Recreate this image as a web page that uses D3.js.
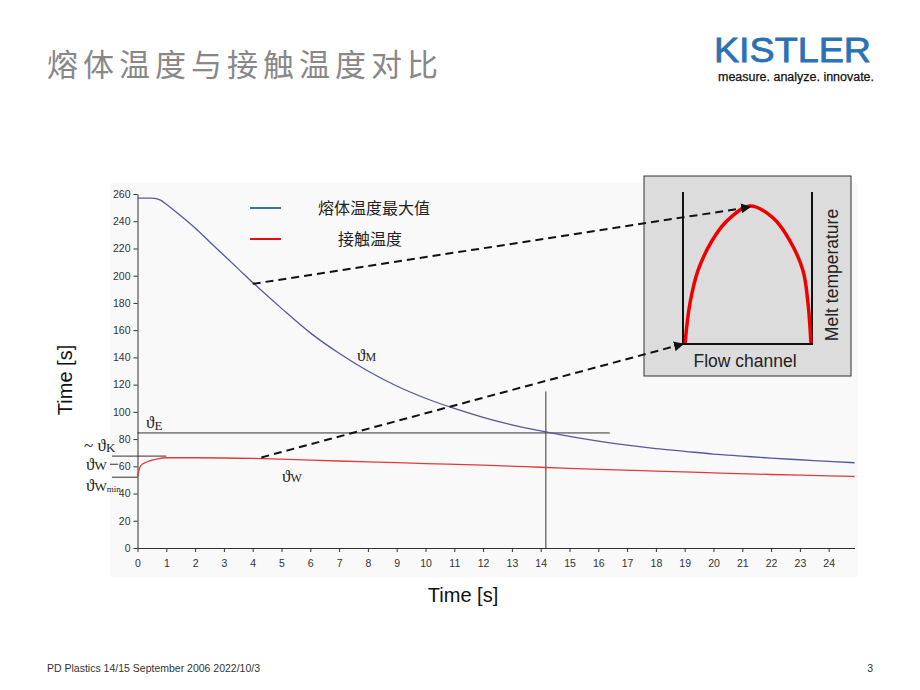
<!DOCTYPE html>
<html>
<head>
<meta charset="utf-8">
<script src="https://cdn.jsdelivr.net/npm/d3@7"></script>
<style>
body { margin: 0; background: #fff; }
text { font-family: Arial, "Liberation Sans", sans-serif; }
.cjk { font-family: "Noto Sans CJK SC", sans-serif; }
.greek { font-family: "Liberation Serif", "DejaVu Serif", serif; fill: #222; }
</style>
</head>
<body>
<div id="chart"></div>
<script>
// melt temperature maximum (blue) and contact temperature (red)
var timeM = [0, 0.5, 0.8, 1, 1.5, 2, 2.5, 3, 3.5, 4, 5, 6, 7, 8, 9, 10, 11, 12, 13, 14, 15, 16, 17, 18, 19, 20, 21, 22, 23, 24, 24.9];
var tempM = [257, 257, 255.5, 252.5, 244, 235, 225, 215, 205, 195, 176, 158, 143, 130, 119, 110, 102.5, 96, 90.5, 86, 82, 78.5, 75.5, 73, 71, 69, 67.5, 66, 64.8, 63.6, 62.6];
var timeW = [0, 0.05, 0.1, 0.2, 0.3, 0.5, 0.7, 1, 2, 4, 6, 8, 10, 12, 14, 16, 18, 20, 22, 24, 24.9];
var tempW = [52, 57, 60, 62, 63, 64.5, 65.5, 66.3, 66.3, 65.8, 64.5, 63.3, 62, 60.8, 59.3, 57.8, 56.5, 55.2, 54, 53, 52.5];
var xTicks = d3.range(0, 25, 1);
var yTicks = d3.range(0, 261, 20);
var legendNames = ["熔体温度最大值", "接触温度"];

// reference levels
var levelE = 84.5, levelK = 67.5, levelWmin = 52, levelW = 61.5;
var crossTime = 14.18, crossTop = 115, levelEEnd = 16.4;

// inset melt profile across the flow channel (normalised)
var profX = [0.016, 0.054, 0.116, 0.225, 0.341, 0.519, 0.698, 0.829, 0.93, 0.969, 0.992];
var profY = [0.007, 0.295, 0.532, 0.748, 0.892, 1.0, 0.914, 0.748, 0.532, 0.295, 0.007];

var width = 920, height = 690;
var svg = d3.select("#chart").append("svg")
	.attr("width", width)
	.attr("height", height);

// title + logo
svg.append("text")
	.attr("class", "cjk")
	.attr("x", 47).attr("y", 76)
	.attr("font-size", 31)
	.attr("letter-spacing", 5)
	.attr("fill", "#888")
	.text("熔体温度与接触温度对比");

svg.append("text")
	.attr("x", 714).attr("y", 62)
	.attr("font-size", 35)
	.attr("textLength", 157)
	.attr("lengthAdjust", "spacingAndGlyphs")
	.attr("fill", "#2a72b4")
	.attr("stroke", "#2a72b4").attr("stroke-width", 0.8)
	.text("KISTLER");

svg.append("text")
	.attr("x", 718).attr("y", 81)
	.attr("font-size", 12.5)
	.attr("textLength", 156)
	.attr("lengthAdjust", "spacingAndGlyphs")
	.attr("fill", "#111")
	.attr("stroke", "#111").attr("stroke-width", 0.25)
	.text("measure. analyze. innovate.");

// plot background
svg.append("rect")
	.attr("x", 110).attr("y", 183)
	.attr("width", 748).attr("height", 394)
	.attr("fill", "#f9f9f9");

var x = d3.scaleLinear().domain([0, 24.9]).range([137.5, 854.6]);
var y = d3.scaleLinear().domain([0, 260]).range([548, 194]);

var xAxis = d3.axisBottom(x).tickValues(xTicks).tickSize(4).tickSizeOuter(0).tickPadding(8);
var yAxis = d3.axisLeft(y).tickValues(yTicks).tickSize(4).tickSizeOuter(0).tickPadding(3);

var gx = svg.append("g").attr("transform", "translate(0," + y(0) + ")").call(xAxis);
var gy = svg.append("g").attr("transform", "translate(" + x(0) + ",0)").call(yAxis);
[gx, gy].forEach(function(g) {
	g.select(".domain").attr("stroke", "#333");
	g.selectAll(".tick line").attr("stroke", "#333");
	g.selectAll(".tick text").attr("font-size", 10.5).attr("fill", "#333")
		.style("font-family", "Arial, 'Liberation Sans', sans-serif");
});

// axis titles
svg.append("text")
	.attr("x", 463).attr("y", 602)
	.attr("text-anchor", "middle")
	.attr("font-size", 20).attr("fill", "#111")
	.text("Time [s]");
svg.append("text")
	.attr("transform", "translate(72,380) rotate(-90)")
	.attr("text-anchor", "middle")
	.attr("font-size", 20).attr("fill", "#111")
	.text("Time [s]");

// reference lines
var ref = svg.append("g").attr("stroke", "#333").attr("stroke-width", 1);
ref.append("line")
	.attr("x1", x(0)).attr("x2", x(levelEEnd))
	.attr("y1", y(levelE)).attr("y2", y(levelE));
ref.append("line")
	.attr("x1", x(crossTime)).attr("x2", x(crossTime))
	.attr("y1", y(crossTop)).attr("y2", y(0));
ref.append("line")
	.attr("x1", 112).attr("x2", x(1))
	.attr("y1", y(levelK)).attr("y2", y(levelK));
ref.append("line")
	.attr("x1", 112).attr("x2", x(0))
	.attr("y1", y(levelWmin)).attr("y2", y(levelWmin));
ref.append("line")
	.attr("x1", 110).attr("x2", 118)
	.attr("y1", y(levelW)).attr("y2", y(levelW));

// curves
var line = d3.line()
	.x(function(d) { return x(d[0]); })
	.y(function(d) { return y(d[1]); })
	.curve(d3.curveMonotoneX);

svg.append("path")
	.datum(d3.zip(timeM, tempM))
	.attr("d", line)
	.attr("fill", "none")
	.attr("stroke", "#5558a0")
	.attr("stroke-width", 1.3);

svg.append("path")
	.datum(d3.zip(timeW, tempW))
	.attr("d", line)
	.attr("fill", "none")
	.attr("stroke", "#e23a3a")
	.attr("stroke-width", 1.3);

// theta labels
function theta(px, py, sub, subSize, shift, prefix, extra) {
	var t = svg.append("text").attr("class", "greek")
		.attr("x", px).attr("y", py).attr("font-size", 17);
	if (prefix) t.append("tspan").text(prefix);
	t.append("tspan").text("ϑ");
	t.append("tspan").attr("font-size", subSize).attr("dy", shift).text(sub);
	if (extra) t.append("tspan").attr("font-size", 9).attr("dy", 1).text(extra);
}
theta(146, 428, "E", 13, 2);
theta(84, 451, "K", 13, 1, "~ ");
theta(86, 470, "W", 13, 0);
theta(86, 491, "W", 13, 0, null, "min");
theta(357, 361, "M", 12, 0);
theta(282, 482, "W", 12, 0);

// legend
var legend = svg.append("g");
var legendColors = ["#3f6f9f", "#e01010"];
legendNames.forEach(function(name, i) {
	var ly = 208 + i * 31;
	legend.append("line")
		.attr("x1", 250).attr("x2", 281)
		.attr("y1", ly).attr("y2", ly)
		.attr("stroke", legendColors[i]).attr("stroke-width", 2);
	legend.append("text")
		.attr("class", "cjk")
		.attr("x", i == 0 ? 318 : 338).attr("y", ly + 6)
		.attr("font-size", 16).attr("fill", "#222")
		.text(name);
});

// inset: melt temperature across flow channel
var inset = svg.append("g");
inset.append("rect")
	.attr("x", 644).attr("y", 176)
	.attr("width", 207).attr("height", 200)
	.attr("fill", "#dcdcdc").attr("stroke", "#333").attr("stroke-width", 1);

var ix = d3.scaleLinear().domain([0, 1]).range([683, 812]);
var iy = d3.scaleLinear().domain([0, 1]).range([344, 206]);

inset.append("path")
	.attr("d", "M" + ix(0) + "," + (iy(1) - 14) + "V" + iy(0) + "H" + ix(1) + "V" + (iy(1) - 14))
	.attr("fill", "none").attr("stroke", "#111").attr("stroke-width", 2);

inset.append("path")
	.datum(d3.zip(profX, profY))
	.attr("d", d3.line()
		.x(function(d) { return ix(d[0]); })
		.y(function(d) { return iy(d[1]); })
		.curve(d3.curveCatmullRom))
	.attr("fill", "none").attr("stroke", "#ee0000").attr("stroke-width", 3.5);

inset.append("text")
	.attr("x", 745).attr("y", 367)
	.attr("text-anchor", "middle")
	.attr("font-size", 17.5).attr("fill", "#222")
	.text("Flow channel");
inset.append("text")
	.attr("transform", "translate(838,275) rotate(-90)")
	.attr("text-anchor", "middle")
	.attr("font-size", 17.5).attr("fill", "#222")
	.text("Melt temperature");

// dashed pointers
var defs = svg.append("defs");
defs.append("marker")
	.attr("id", "arrow")
	.attr("viewBox", "0 0 10 10")
	.attr("refX", 9).attr("refY", 5)
	.attr("markerWidth", 5).attr("markerHeight", 5)
	.attr("orient", "auto")
	.append("path").attr("d", "M0,0L10,5L0,10z").attr("fill", "#111");

svg.append("line")
	.attr("x1", x(4.0)).attr("y1", y(194))
	.attr("x2", ix(0.52)).attr("y2", iy(1) + 1)
	.attr("stroke", "#111").attr("stroke-width", 2)
	.attr("stroke-dasharray", "8,5")
	.attr("marker-end", "url(#arrow)");

svg.append("line")
	.attr("x1", x(4.3)).attr("y1", y(66.5))
	.attr("x2", ix(0)).attr("y2", iy(0))
	.attr("stroke", "#111").attr("stroke-width", 2)
	.attr("stroke-dasharray", "8,5")
	.attr("marker-end", "url(#arrow)");

// footer
svg.append("text")
	.attr("x", 47).attr("y", 672)
	.attr("font-size", 10.5).attr("fill", "#333")
	.text("PD Plastics 14/15 September 2006 2022/10/3");
svg.append("text")
	.attr("x", 873).attr("y", 672)
	.attr("text-anchor", "end")
	.attr("font-size", 10.5).attr("fill", "#333")
	.text("3");
</script>
</body>
</html>
